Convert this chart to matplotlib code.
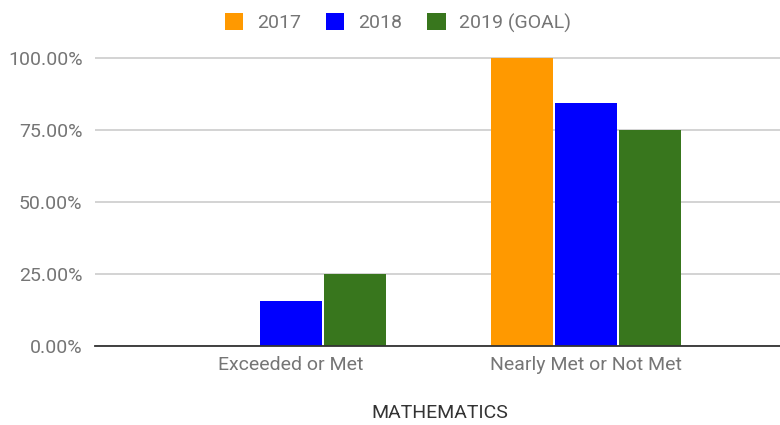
import matplotlib.pyplot as plt
import numpy as np
from matplotlib.ticker import PercentFormatter

categories = ["Exceeded or Met", "Nearly Met or Not Met"]
series = ["2017", "2018", "2019 (GOAL)"]
values_2017 = [0.0, 1.0]
values_2018 = [0.156, 0.844]
values_2019 = [0.25, 0.75]
colors = ["#FF9900", "#0000FF", "#38761D"]

plt.rcParams['font.family'] = ['Roboto', 'DejaVu Sans']
text_color = "#757575"

fig = plt.figure(figsize=(7.8, 4.25), dpi=100)
# axes placed in pixel terms: x 95..780, y 55..346
ax = fig.add_axes([95 / 780, (425 - 346) / 425, (780 - 95) / 780, (346 - 55) / 425])

x = np.arange(len(categories))
width = 0.21
step = 0.217
for i, (name, vals) in enumerate(zip(series, [values_2017, values_2018, values_2019])):
    ax.bar(x + (i - 1) * step, vals, width, color=colors[i], label=name, zorder=3)

ax.set_xlim(-0.664, 1.658)
ax.set_ylim(0, 1.0104)
ax.set_yticks([0, 0.25, 0.5, 0.75, 1.0])
ax.yaxis.set_major_formatter(PercentFormatter(1.0, decimals=2))
ax.set_xticks(x)
ax.set_xticklabels(categories)
ax.tick_params(axis='both', length=0, labelsize=14, colors=text_color)
ax.tick_params(axis='x', pad=7)
ax.tick_params(axis='y', pad=9)

ax.grid(axis='y', color="#cccccc", linewidth=1.2, zorder=0)
for side in ["top", "right", "left"]:
    ax.spines[side].set_visible(False)
ax.spines["bottom"].set_color("#333333")
ax.spines["bottom"].set_linewidth(1.3)
ax.spines["bottom"].set_zorder(4)

fig.text(440 / 780, 1 - 413 / 425, "MATHEMATICS", ha='center', va='center',
         fontsize=14, color="#333333")

fig.legend(loc='upper center', bbox_to_anchor=(398 / 780, 1.01), ncol=3, frameon=False,
           fontsize=14, handlelength=0.95, handleheight=0.95, handletextpad=0.7,
           columnspacing=1.3, labelcolor=text_color)

fig.savefig("out.png", dpi=100, facecolor="white")
